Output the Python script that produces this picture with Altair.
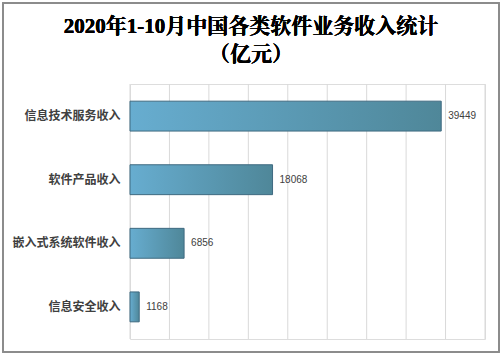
import altair as alt
import pandas as pd

categories = ["信息技术服务收入", "软件产品收入", "嵌入式系统软件收入", "信息安全收入"]
values = [39449, 18068, 6856, 1168]
grid_values = [0, 5000, 10000, 15000, 20000, 25000, 30000, 35000, 40000, 45000]
title_lines = ["2020年1-10月中国各类软件业务收入统计", "（亿元）"]

df = pd.DataFrame({"cat": categories, "val": values})
gdf = pd.DataFrame({"g": grid_values})

W, H = 355, 255
PADL, PADT = 130, 84

xscale = alt.Scale(domain=[0, 45000], nice=False)

y_enc = alt.Y("cat:N", sort=categories, title=None,
              scale=alt.Scale(paddingInner=0.53, paddingOuter=0.27),
              axis=alt.Axis(domain=False, ticks=False, labelPadding=10,
                            labelFont="Noto Sans CJK SC", labelFontSize=12,
                            labelFontWeight="bold", labelColor="#404040"))
x_enc = alt.X("val:Q", title=None, scale=xscale, axis=None)

grid = alt.Chart(gdf).mark_rule(color="#d9d9d9", strokeWidth=1).encode(
    x=alt.X("g:Q", scale=xscale, axis=None), y=alt.value(0), y2=alt.value(H))

bars = alt.Chart(df).mark_bar(
    color=alt.Gradient(gradient="linear", x1=0, x2=1, y1=0, y2=0,
                       stops=[alt.GradientStop(color="#67add0", offset=0),
                              alt.GradientStop(color="#4f8799", offset=1)]),
    stroke="#3f6a80", strokeWidth=1
).encode(x=x_enc, y=y_enc)

labels = alt.Chart(df).mark_text(
    align="left", baseline="middle", dx=7, fontSize=10,
    font="Liberation Sans, Noto Sans CJK SC", color="#404040"
).encode(x="val:Q", y=alt.Y("cat:N", sort=categories), text="val:Q")

frame = alt.Chart(df).mark_rect(
    fill=None, stroke="#8c8c8c", strokeWidth=1.5
).encode(x=alt.value(3 - PADL), x2=alt.value(499 - PADL),
         y=alt.value(3 - PADT), y2=alt.value(352 - PADT))

title_font = "Liberation Serif, Noto Serif CJK SC, Noto Sans CJK SC"
t1 = alt.Chart(df).mark_text(
    text=title_lines[0], font=title_font, fontSize=21, fontWeight="bold",
    color="#000000", align="center", baseline="middle"
).encode(x=alt.value(251 - PADL), y=alt.value(27 - PADT))
t2 = alt.Chart(df).mark_text(
    text=title_lines[1], font=title_font, fontSize=21, fontWeight="bold",
    color="#000000", align="center", baseline="middle"
).encode(x=alt.value(251 - PADL), y=alt.value(55 - PADT))

chart = alt.layer(grid, bars, labels, frame, t1, t2).properties(
    width=W, height=H,
    autosize=alt.AutoSizeParams(type="none"),
    padding={"left": PADL, "top": PADT, "right": 502 - PADL - W, "bottom": 358 - PADT - H},
).configure_view(stroke=None).configure(background="white")

chart.save("out.html", embed_options={"renderer": "svg", "actions": False})
